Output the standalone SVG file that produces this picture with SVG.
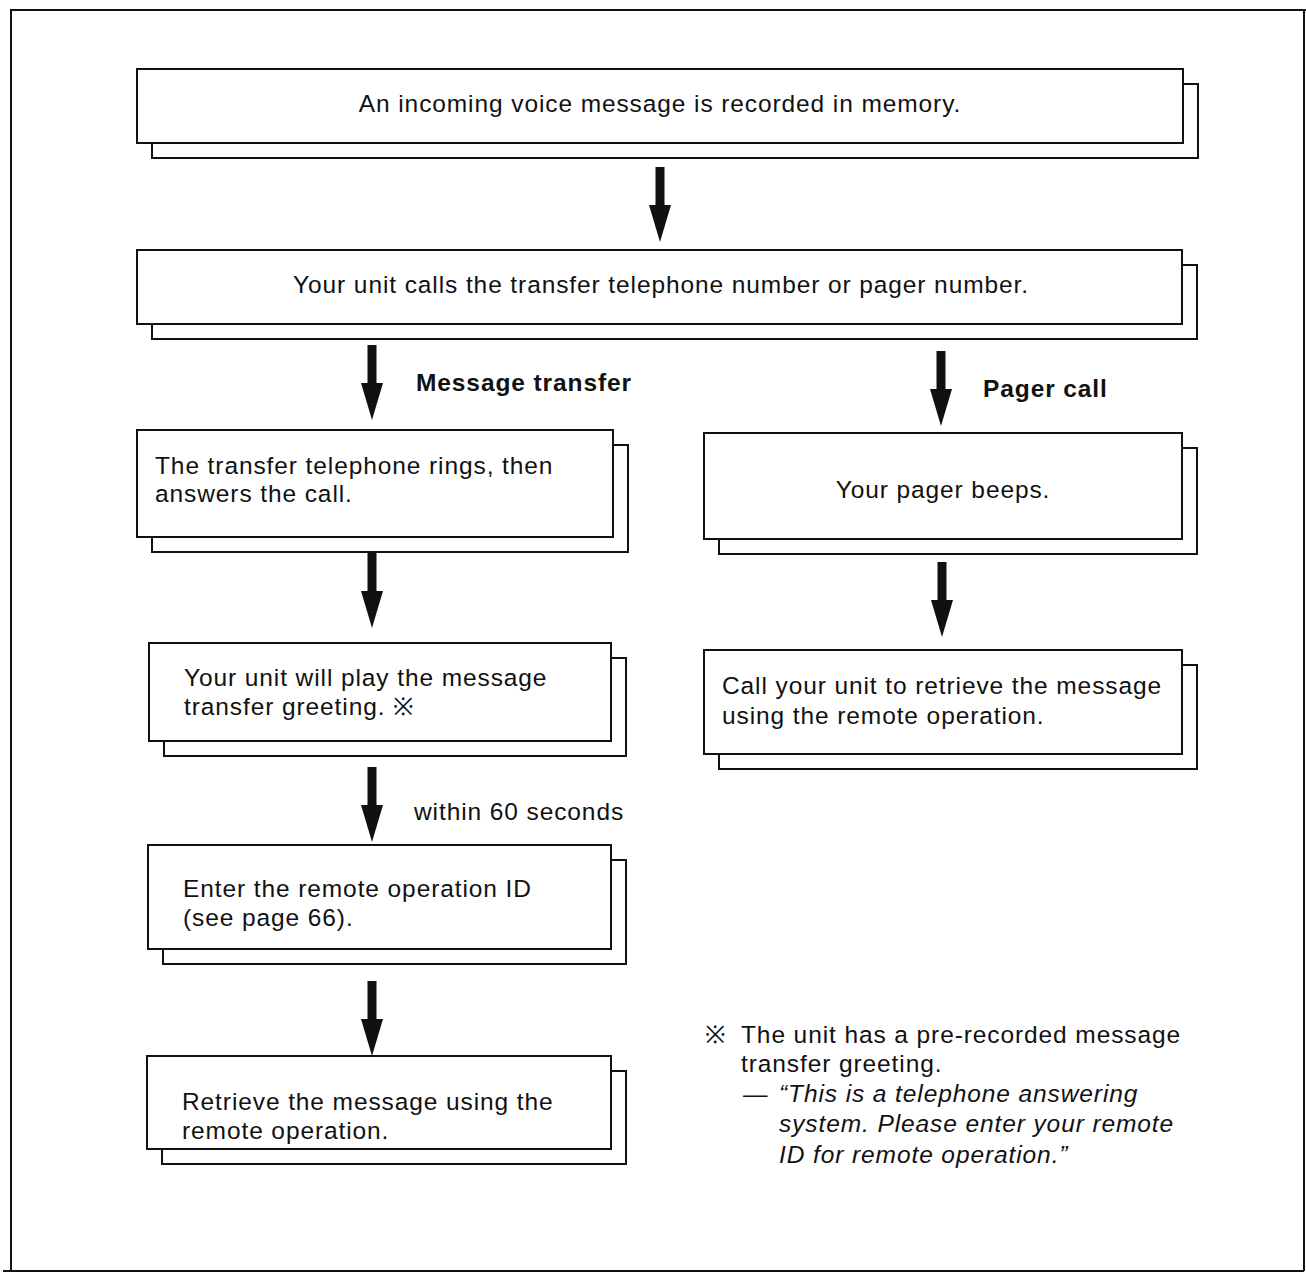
<svg xmlns="http://www.w3.org/2000/svg" width="1306" height="1279" viewBox="0 0 1306 1279">
<style>
.box{fill:#fff;stroke:#111;stroke-width:2}
.t{font-family:"Liberation Sans",Arial,sans-serif;font-size:24.5px;letter-spacing:0.9px;fill:#111}
.b{font-weight:bold}
.i{font-style:italic}
.arr{fill:#111}
.frame{fill:none;stroke:#111;stroke-width:2}
</style>
<defs>
<path id="arrow" d="M-4.5,0 H4.5 V38 H11 L0,75 L-11,38 H-4.5 Z"/>
</defs>
<rect width="1306" height="1279" fill="#fff"/>
<path class="frame" d="M11,1271 V10 H1306 M1304,10 V1271 M3,1271 H1304"/>

<g id="connectors">
<use href="#arrow" class="arr" transform="translate(660,167)"/>
<use href="#arrow" class="arr" transform="translate(372,345)"/>
<use href="#arrow" class="arr" transform="translate(941,351)"/>
<use href="#arrow" class="arr" transform="translate(372,553)"/>
<use href="#arrow" class="arr" transform="translate(942,562)"/>
<use href="#arrow" class="arr" transform="translate(372,767)"/>
<use href="#arrow" class="arr" transform="translate(372,981)"/>
<text class="t b" x="416" y="391">Message transfer</text>
<text class="t b" x="983" y="397">Pager call</text>
<text class="t" x="414" y="820">within 60 seconds</text>
</g>

<g id="n1">
<rect class="box" x="152" y="84" width="1046" height="74"/>
<rect class="box" x="137" y="69" width="1046" height="74"/>
<text class="t" x="660" y="112" text-anchor="middle">An incoming voice message is recorded in memory.</text>
</g>
<g id="n2">
<rect class="box" x="152" y="265" width="1045" height="74"/>
<rect class="box" x="137" y="250" width="1045" height="74"/>
<text class="t" x="661" y="293" text-anchor="middle">Your unit calls the transfer telephone number or pager number.</text>
</g>
<g id="n3">
<rect class="box" x="152" y="445" width="476" height="107"/>
<rect class="box" x="137" y="430" width="476" height="107"/>
<text class="t" x="155" y="474">The transfer telephone rings, then</text>
<text class="t" x="155" y="502">answers the call.</text>
</g>
<g id="n4">
<rect class="box" x="164" y="658" width="462" height="98"/>
<rect class="box" x="149" y="643" width="462" height="98"/>
<text class="t" x="184" y="686">Your unit will play the message</text>
<text class="t" x="184" y="715">transfer greeting. ※</text>
</g>
<g id="n5">
<rect class="box" x="163" y="860" width="463" height="104"/>
<rect class="box" x="148" y="845" width="463" height="104"/>
<text class="t" x="183" y="897">Enter the remote operation ID</text>
<text class="t" x="183" y="926">(see page 66).</text>
</g>
<g id="n6">
<rect class="box" x="162" y="1071" width="464" height="93"/>
<rect class="box" x="147" y="1056" width="464" height="93"/>
<text class="t" x="182" y="1110">Retrieve the message using the</text>
<text class="t" x="182" y="1139">remote operation.</text>
</g>
<g id="r1">
<rect class="box" x="719" y="448" width="478" height="106"/>
<rect class="box" x="704" y="433" width="478" height="106"/>
<text class="t" x="943" y="498" text-anchor="middle">Your pager beeps.</text>
</g>
<g id="r2">
<rect class="box" x="719" y="665" width="478" height="104"/>
<rect class="box" x="704" y="650" width="478" height="104"/>
<text class="t" x="722" y="694">Call your unit to retrieve the message</text>
<text class="t" x="722" y="724">using the remote operation.</text>
</g>

<g id="note">
<text class="t" x="705" y="1043">※</text>
<text class="t" x="741" y="1043">The unit has a pre-recorded message</text>
<text class="t" x="741" y="1072">transfer greeting.</text>
<text class="t" x="743" y="1102">—</text>
<text class="t i" x="779" y="1102">“This is a telephone answering</text>
<text class="t i" x="779" y="1132">system. Please enter your remote</text>
<text class="t i" x="779" y="1163">ID for remote operation.”</text>
</g>
</svg>
